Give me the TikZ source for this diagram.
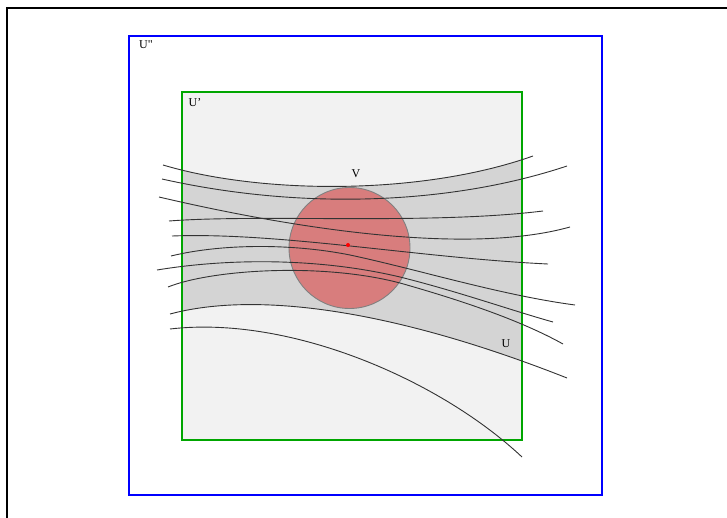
\documentclass[tikz,border=0pt]{standalone}
\usepackage{fontspec}
\setmainfont{Liberation Serif}
\definecolor{vfill}{RGB}{220,40,40}
\begin{document}
\begin{tikzpicture}[x=1pt,y=-1pt,
  curve/.style={draw=black!80,line width=0.9pt},
  lbl/.style={font=\fontsize{12}{14}\selectfont,inner sep=0pt}]
\useasboundingbox (0,0) rectangle (727,518);
% outer frame (top and left)
\draw[black,line width=1.4pt] (727,8) -- (7,8) -- (7,518);
% U''
\draw[blue,line width=2pt] (129,36) rectangle (602,495);
% U'
\fill[black!5] (182,92) rectangle (522,440);
\begin{scope}
\clip (182,92) rectangle (522,440);
\fill[black!17] (163,165) .. controls (260,194) and (420,196) .. (533,156)
  -- (567,378) .. controls (400,312) and (260,290) .. (170,314) -- cycle;
\end{scope}
\draw[green!65!black,line width=2pt] (182,92) rectangle (522,440);
% V
\fill[vfill,fill opacity=0.5] (349.5,248) circle (60.5);
\draw[gray,line width=0.9pt] (349.5,248) circle (60.5);
% curves
\draw[curve] (163,165) .. controls (260,194) and (420,196) .. (533,156);
\draw[curve] (162,179) .. controls (300,210) and (450,205) .. (567,166);
\draw[curve] (159,197) .. controls (300,230) and (470,255) .. (570,227);
\draw[curve] (169,221) .. controls (260,214) and (430,225) .. (543,211);
\draw[curve] (172,236) .. controls (280,232) and (420,258) .. (548,264);
\draw[curve] (171,256) .. controls (220,244) and (290,243) .. (350,255)
  .. controls (420,270) and (500,295) .. (575,305);
\draw[curve] (157,270) .. controls (230,258) and (320,258) .. (400,277)
  .. controls (460,292) and (510,310) .. (553,322);
\draw[curve] (168,287) .. controls (210,270) and (320,262) .. (400,283)
  .. controls (460,300) and (520,320) .. (563,344);
\draw[curve] (170,314) .. controls (260,290) and (400,312) .. (567,378);
\draw[curve] (170,329) .. controls (290,315) and (440,380) .. (522,457);
% centre point
\fill[red] (348,245) circle (2);
% labels
\node[lbl] (lUpp) at (146,45) {U\textquotedbl};
\node[lbl] (lUp) at (195,103) {U'};
\node[lbl] (lV) at (356,174) {V};
\node[lbl] (lU) at (506,344) {U};
\end{tikzpicture}
\end{document}
